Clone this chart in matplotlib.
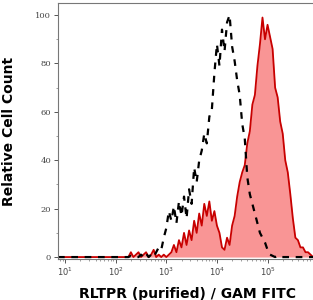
import numpy as np
import matplotlib
matplotlib.use("Agg")
import matplotlib.pyplot as plt
from matplotlib.ticker import LogLocator, MultipleLocator

# x positions as decade exponents (log10 of fluorescence)
log_x = [0.86, 2.20, 2.25, 2.30, 2.35, 2.40, 2.45, 2.50, 2.55, 2.60, 2.65, 2.70, 2.75,
         2.80, 2.85, 2.90, 2.95, 3.00, 3.05, 3.10, 3.15, 3.20, 3.25, 3.30, 3.35,
         3.40, 3.45, 3.50, 3.55, 3.60, 3.65, 3.70, 3.75, 3.80, 3.85, 3.90, 3.95,
         4.00, 4.05, 4.10, 4.15, 4.20, 4.25, 4.30, 4.35, 4.40, 4.45, 4.50, 4.55,
         4.60, 4.65, 4.70, 4.75, 4.80, 4.85, 4.90, 4.95, 5.00, 5.05, 5.10, 5.15,
         5.20, 5.25, 5.30, 5.35, 5.40, 5.45, 5.50, 5.55, 5.60, 5.65, 5.70, 5.75,
         5.80, 5.85, 5.90, 5.96]

# stained sample (red, filled)
stained = [0, 0, 0, 2, 0, 1, 2, 0, 1, 2, 0, 1, 3,
           0, 1, 0, 1, 0, 1, 2, 5, 2, 7, 4, 10,
           5, 11, 7, 15, 10, 18, 13, 22, 17, 23, 15, 19,
           13, 10, 4, 3, 8, 5, 13, 17, 25, 31, 35, 38,
           47, 52, 63, 67, 79, 88, 99, 90, 96, 91, 86, 70,
           66, 56, 51, 40, 35, 26, 16, 8, 7, 4, 4, 2,
           2, 1, 0, 0]

# isotype / secondary only control (black dashed)
control = [0, 0, 0, 0.5, 0, 0, 0, 1, 0, 1.5, 0, 1, 0,
           2, 4, 3, 8, 12, 19, 15, 21, 14, 23, 17, 25,
           16, 28, 22, 37, 31, 40, 44, 51, 47, 58, 61, 76,
           88, 79, 94, 85, 97, 100, 87, 81, 73, 67, 55, 49,
           33, 26, 22, 18, 14, 10, 8, 6, 3, 1, 0.5, 0,
           0.5, 0, 0, 0, 0, 0, 0, 0, 0, 0, 0, 0,
           0, 0, 0, 0]

y_ticks = [0, 20, 40, 60, 80, 100]

plt.rcParams["mathtext.fontset"] = "dejavuserif"

fig = plt.figure(figsize=(3.13, 3.0), dpi=100)
ax = fig.add_axes([58 / 313, 41 / 300, 1 - 58 / 313 + 0.01, 256 / 300])

xs = np.power(10.0, log_x)
ax.fill_between(xs, stained, 0, color="#f99595", lw=0)
ax.plot(xs, stained, color="#c80000", lw=1.3)
ax.plot(xs, control, color="black", lw=1.6, linestyle=(0, (3, 3)))

ax.set_xscale("log")
ax.set_xlim(10 ** 0.86, 10 ** 5.96)
ax.set_ylim(-0.8, 105)
ax.xaxis.set_major_locator(LogLocator(base=10, numticks=10))
ax.xaxis.set_minor_locator(LogLocator(base=10, subs=np.arange(2, 10), numticks=20))
ax.set_yticks(y_ticks)
ax.yaxis.set_minor_locator(MultipleLocator(10))

for s in ["left", "top", "bottom", "right"]:
    ax.spines[s].set_color("#777777")
    ax.spines[s].set_linewidth(0.8)
ax.tick_params(axis="both", which="major", labelsize=6, length=3, width=0.7,
               colors="#555555", labelcolor="#444444", pad=2)
ax.tick_params(axis="both", which="minor", length=1.5, width=0.5, colors="#777777")
for lbl in ax.get_yticklabels():
    lbl.set_family("DejaVu Serif")

ax.set_xlabel("RLTPR (purified) / GAM FITC", fontsize=10, fontweight="bold",
              labelpad=6)
ax.set_ylabel("Relative Cell Count", fontsize=10, fontweight="bold", labelpad=14)

fig.savefig("out.png", dpi=100)
